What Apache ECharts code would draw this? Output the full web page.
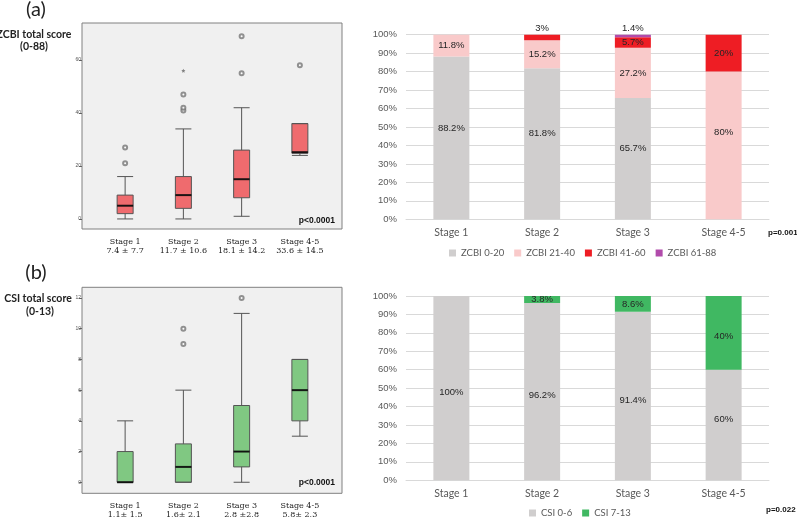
<!DOCTYPE html>
<html><head><meta charset="utf-8">
<script src="https://cdn.jsdelivr.net/npm/echarts@6/dist/echarts.min.js"></script>
<style>html,body{margin:0;padding:0;background:#fff}#c{width:797px;height:519px}</style>
</head><body><div id="c"></div>
<script>
const stages = ['Stage 1', 'Stage 2', 'Stage 3', 'Stage 4-5'];
const zcbiStats = ['7.4 ± 7.7', '11.7 ± 10.6', '18.1 ± 14.2', '33.6 ± 14.5'];
const csiStats = ['1.1± 1.5', '1.6± 2.1', '2.8 ±2.8', '5.8± 2.3'];
// [min, Q1, median, Q3, max]
const zcbiBox = [[0, 2, 5, 9, 16], [0, 4, 9, 16, 34], [1, 8, 15, 26, 42], [24, 24.8, 25.2, 36, 36]];
const zcbiOutliers = [[0, 21], [0, 27], [1, 41], [1, 42], [1, 47], [2, 55], [2, 69], [3, 58]];
const zcbiExtremes = [[1, 56]];
const zcbiTicks = [0, 20, 40, 60];
const csiBox = [[0, 0, 0, 2, 4], [0, 0, 1, 2.5, 6], [0, 1, 2, 5, 11], [3, 4, 6, 8, 8]];
const csiOutliers = [[1, 9], [1, 10], [2, 12]];
const csiTicks = [0, 2, 4, 6, 8, 10, 12];

const zcbiNames = ['ZCBI 0-20', 'ZCBI 21-40', 'ZCBI 41-60', 'ZCBI 61-88'];
const zcbi0_20 = [88.2, 81.8, 65.7, 0];
const zcbi21_40 = [11.8, 15.2, 27.2, 80];
const zcbi41_60 = [0, 3, 5.7, 20];
const zcbi61_88 = [0, 0, 1.4, 0];
const csiNames = ['CSI 0-6', 'CSI 7-13'];
const csi0_6 = [100, 96.2, 91.4, 60];
const csi7_13 = [0, 3.8, 8.6, 40];

const labelFont = 'Liberation Sans, Arial, sans-serif';
const calFont = 'Lato, "Open Sans", sans-serif';

function boxX(gi, stats) {
  return {
    type: 'category', gridIndex: gi, data: stages,
    axisLine: { show: false },
    axisTick: { alignWithLabel: true, length: 3, lineStyle: { color: '#666' } },
    axisLabel: {
      interval: 0,
      formatter: (v, i) => v + '\n' + stats[i],
      fontSize: 8, lineHeight: 9, color: '#222', margin: 8, fontFamily: 'DejaVu Serif, serif'
    }
  };
}
function boxY(gi, min, max, ticks) {
  return {
    type: 'value', gridIndex: gi, min: min, max: max, offset: 14,
    splitLine: { show: false },
    axisLine: { show: false },
    axisTick: { show: true, length: 3, customValues: ticks, lineStyle: { color: '#666' } },
    axisLabel: { customValues: ticks, fontSize: 5, color: '#555', margin: 1 }
  };
}
function barX(gi) {
  return {
    type: 'category', gridIndex: gi, data: stages,
    axisLine: { lineStyle: { color: '#D9D9D9' } },
    axisTick: { show: false },
    axisLabel: { interval: 0, color: '#595959', fontSize: 10.5, fontFamily: calFont, margin: 8 }
  };
}
function barY(gi) {
  return {
    type: 'value', gridIndex: gi, min: 0, max: 100, interval: 10,
    axisLine: { show: false }, axisTick: { show: false },
    splitLine: { lineStyle: { color: '#D9D9D9' } },
    axisLabel: { formatter: '{value}%', color: '#595959', fontSize: 9.5, fontFamily: labelFont, margin: 9 }
  };
}
function boxSeries(gi, data, fill, outliers, extremes) {
  const s = [
    {
      type: 'boxplot', xAxisIndex: gi, yAxisIndex: gi, data: data, boxWidth: [16, 16],
      itemStyle: { color: fill, borderColor: '#555', borderWidth: 1 }, z: 3
    },
    {
      type: 'scatter', xAxisIndex: gi, yAxisIndex: gi, data: data.map((b, i) => [i, b[2]]),
      symbol: 'rect', symbolSize: [16, 2], itemStyle: { color: '#000' }, z: 5
    },
    {
      type: 'scatter', xAxisIndex: gi, yAxisIndex: gi, data: outliers,
      symbol: 'emptyCircle', symbolSize: 4, itemStyle: { color: '#777', borderWidth: 0.8 }, z: 5
    }
  ];
  if (extremes) s.push({
    type: 'scatter', xAxisIndex: gi, yAxisIndex: gi, data: extremes,
    symbol: 'path://M0,-10L2.9,-4L9.5,-3L4.7,1.5L5.9,8L0,5L-5.9,8L-4.7,1.5L-9.5,-3L-2.9,-4Z',
    symbolSize: 4, itemStyle: { color: '#666' }, z: 5
  });
  return s;
}
function barSeries(gi, name, data, color, labelCfg) {
  return {
    type: 'bar', name: name, stack: 's' + gi, xAxisIndex: gi, yAxisIndex: gi,
    barWidth: 36, itemStyle: { color: color },
    data: data.map((v, i) => {
      const item = { value: v };
      const lc = labelCfg ? labelCfg(i) : null;
      if (lc) item.label = lc;
      return item;
    }),
    label: {
      show: true, position: 'inside', color: '#262626', fontSize: 9.5, fontFamily: labelFont,
      formatter: p => (p.value ? p.value + '%' : '')
    }
  };
}

const chart = echarts.init(document.getElementById('c'));
chart.setOption({
  animation: false,
  grid: [
    { left: 96, top: 23, width: 233, height: 206 },
    { left: 406, top: 34.7, width: 363, height: 184.6 },
    { left: 96, top: 287.3, width: 233, height: 206 },
    { left: 406, top: 296, width: 363, height: 184.3 }
  ],
  xAxis: [boxX(0, zcbiStats), barX(1), boxX(2, csiStats), barX(3)],
  yAxis: [boxY(0, -3.8, 74, zcbiTicks), barY(1), boxY(2, -0.7, 12.7, csiTicks), barY(3)],
  legend: [
    {
      data: zcbiNames, left: 449, top: 248, padding: 0, itemWidth: 7, itemHeight: 7, itemGap: 10, icon: 'rect',
      textStyle: { color: '#595959', fontSize: 9.5, fontFamily: calFont }
    },
    {
      data: csiNames, left: 529, top: 508, padding: 0, itemWidth: 7, itemHeight: 7, itemGap: 10, icon: 'rect',
      textStyle: { color: '#595959', fontSize: 9.5, fontFamily: calFont }
    }
  ],
  graphic: [
    { type: 'rect', shape: { x: 82, y: 23, width: 260, height: 206 }, style: { fill: '#F0F0F0', stroke: '#808080', lineWidth: 1 }, z: -10 },
    { type: 'rect', shape: { x: 82, y: 287.3, width: 260, height: 206 }, style: { fill: '#F0F0F0', stroke: '#808080', lineWidth: 1 }, z: -10 },
    { type: 'text', x: 36, y: 10, style: { text: '(a)', fontSize: 20, fill: '#222', fontFamily: calFont, textAlign: 'center', textVerticalAlign: 'middle' } },
    { type: 'text', x: 36, y: 273, style: { text: '(b)', fontSize: 20, fill: '#222', fontFamily: calFont, textAlign: 'center', textVerticalAlign: 'middle' } },
    { type: 'text', x: 34, y: 34.3, style: { text: 'ZCBI total score', fontSize: 10.5, fontWeight: 'bold', fill: '#222', fontFamily: calFont, textAlign: 'center', textVerticalAlign: 'middle' } },
    { type: 'text', x: 34, y: 47, style: { text: '(0-88)', fontSize: 10.5, fontWeight: 'bold', fill: '#222', fontFamily: calFont, textAlign: 'center', textVerticalAlign: 'middle' } },
    { type: 'text', x: 38, y: 299, style: { text: 'CSI total score', fontSize: 10.5, fontWeight: 'bold', fill: '#222', fontFamily: calFont, textAlign: 'center', textVerticalAlign: 'middle' } },
    { type: 'text', x: 40, y: 312, style: { text: '(0-13)', fontSize: 10.5, fontWeight: 'bold', fill: '#222', fontFamily: calFont, textAlign: 'center', textVerticalAlign: 'middle' } },
    { type: 'text', x: 335, y: 220.5, style: { text: 'p<0.0001', fontSize: 8.5, fontWeight: 'bold', fill: '#111', fontFamily: labelFont, textAlign: 'right', textVerticalAlign: 'middle' } },
    { type: 'text', x: 335, y: 483, style: { text: 'p<0.0001', fontSize: 8.5, fontWeight: 'bold', fill: '#111', fontFamily: labelFont, textAlign: 'right', textVerticalAlign: 'middle' } },
    { type: 'text', x: 768, y: 233, style: { text: 'p=0.001', fontSize: 8, fontWeight: 'bold', fill: '#111', fontFamily: labelFont, textAlign: 'left', textVerticalAlign: 'middle' } },
    { type: 'text', x: 766, y: 510, style: { text: 'p=0.022', fontSize: 8, fontWeight: 'bold', fill: '#111', fontFamily: labelFont, textAlign: 'left', textVerticalAlign: 'middle' } }
  ],
  series: [
    ...boxSeries(0, zcbiBox, '#EF6B6E', zcbiOutliers, zcbiExtremes),
    ...boxSeries(2, csiBox, '#80C882', csiOutliers, null),
    barSeries(1, zcbiNames[0], zcbi0_20, '#D0CECE', () => ({ offset: [0, -10] })),
    barSeries(1, zcbiNames[1], zcbi21_40, '#F9CACA', i => (i === 3 ? { offset: [0, -13] } : null)),
    barSeries(1, zcbiNames[2], zcbi41_60, '#EE1D24', i => (i === 1 ? { position: 'top', distance: 1 } : null)),
    barSeries(1, zcbiNames[3], zcbi61_88, '#B14BAB', () => ({ position: 'top', distance: 1 })),
    barSeries(3, csiNames[0], csi0_6, '#D0CECE', i => ({ offset: [0, i === 3 ? -6 : 4] })),
    barSeries(3, csiNames[1], csi7_13, '#40B862', i => (i === 3 ? { offset: [0, 4] } : null))
  ]
});
</script></body></html>
